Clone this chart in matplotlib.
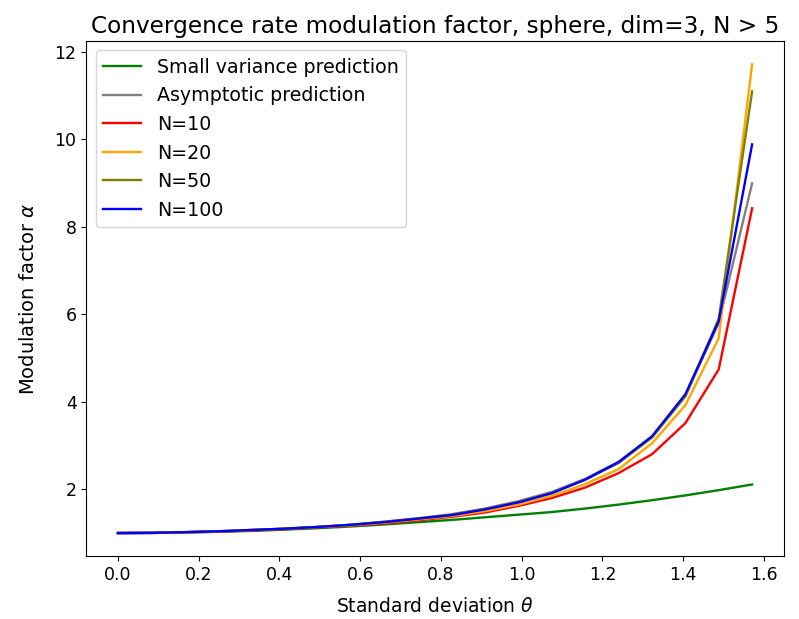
import matplotlib
matplotlib.use('Agg')
import matplotlib.pyplot as plt

# theta grid, 20 points from 0 to pi/2
theta = [0.0, 0.0827, 0.1653, 0.2480, 0.3307, 0.4134, 0.4960, 0.5787, 0.6614, 0.7440,
         0.8267, 0.9094, 0.9921, 1.0747, 1.1574, 1.2401, 1.3228, 1.4054, 1.4881, 1.5708]

small_var = [1.0, 1.003, 1.012, 1.028, 1.049, 1.077, 1.111, 1.151, 1.197, 1.249,
             1.30, 1.36, 1.42, 1.48, 1.56, 1.65, 1.75, 1.86, 1.98, 2.11]
asymptotic = [1.0, 1.005, 1.02, 1.04, 1.07, 1.10, 1.14, 1.19, 1.26, 1.34,
              1.43, 1.56, 1.73, 1.94, 2.24, 2.63, 3.20, 4.13, 5.80, 8.99]
n10 = [1.0, 1.0, 1.02, 1.03, 1.06, 1.09, 1.13, 1.17, 1.22, 1.29,
       1.37, 1.47, 1.62, 1.80, 2.04, 2.37, 2.80, 3.51, 4.74, 8.42]
n20 = [1.0, 1.005, 1.02, 1.04, 1.07, 1.10, 1.14, 1.18, 1.24, 1.31,
       1.39, 1.50, 1.65, 1.85, 2.12, 2.46, 3.05, 3.92, 5.45, 11.71]
n50 = [1.0, 1.005, 1.02, 1.04, 1.07, 1.10, 1.14, 1.19, 1.26, 1.33,
       1.42, 1.55, 1.71, 1.92, 2.22, 2.60, 3.18, 4.12, 5.90, 11.09]
n100 = [1.0, 1.005, 1.02, 1.04, 1.07, 1.10, 1.14, 1.19, 1.25, 1.33,
        1.41, 1.54, 1.70, 1.91, 2.22, 2.62, 3.21, 4.17, 5.84, 9.88]

fig = plt.figure(figsize=(7.99, 6.19), dpi=100)
ax = fig.add_axes([0.108, 0.101, 0.873, 0.833])

lw = 1.7
ax.plot(theta, small_var, color='green', lw=lw, label='Small variance prediction')
ax.plot(theta, asymptotic, color='gray', lw=lw, label='Asymptotic prediction')
ax.plot(theta, n10, color='red', lw=lw, label='N=10')
ax.plot(theta, n20, color='orange', lw=lw, label='N=20')
ax.plot(theta, n50, color='olive', lw=lw, label='N=50')
ax.plot(theta, n100, color='blue', lw=lw, label='N=100')

ax.set_xticks([0.0, 0.2, 0.4, 0.6, 0.8, 1.0, 1.2, 1.4, 1.6])
ax.tick_params(labelsize=12.5)
ax.set_xlabel(r'Standard deviation $\theta$', fontsize=13.5, labelpad=9)
ax.set_ylabel(r'Modulation factor $\alpha$', fontsize=14, labelpad=12)
ax.set_title('Convergence rate modulation factor, sphere, dim=3, N > 5', fontsize=16.7, pad=6)
ax.legend(loc='upper left', fontsize=13.7)

fig.savefig('out.png')
